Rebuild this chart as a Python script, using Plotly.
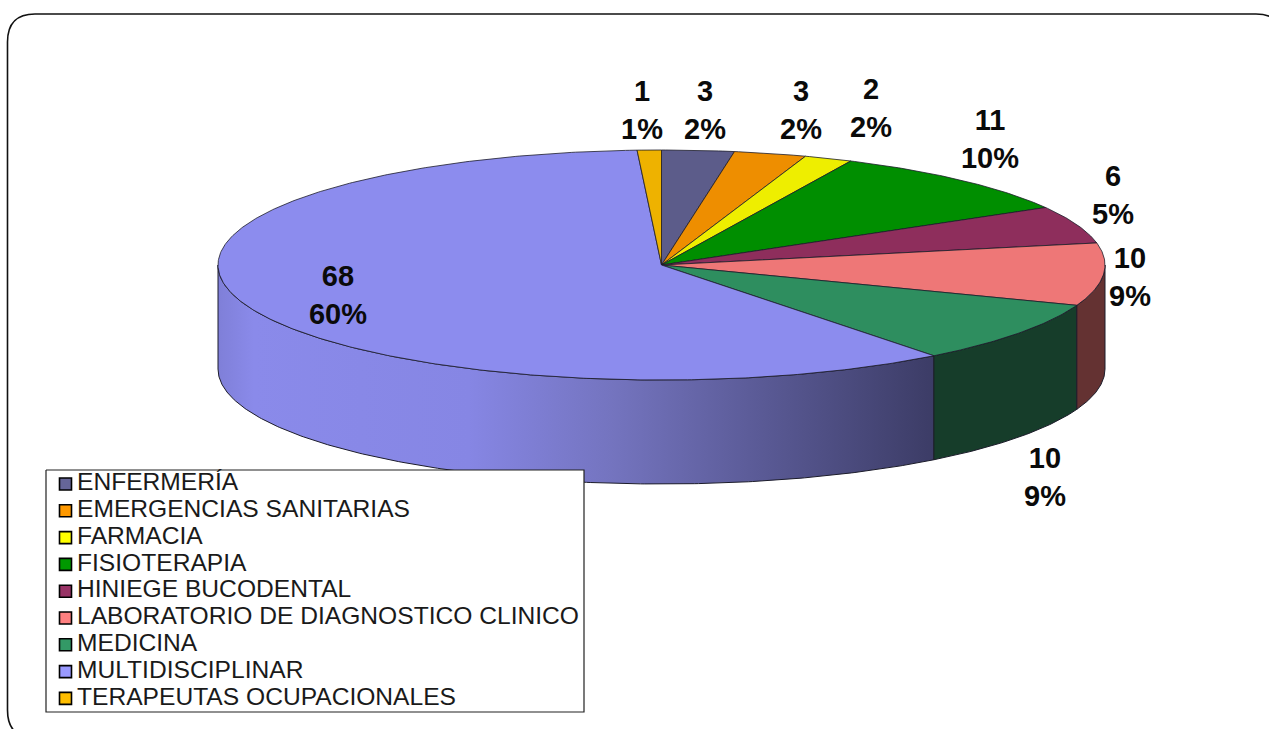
import numpy as np
import plotly.graph_objects as go

categories = ["ENFERMERÍA", "EMERGENCIAS SANITARIAS", "FARMACIA", "FISIOTERAPIA",
              "HINIEGE BUCODENTAL", "LABORATORIO DE DIAGNOSTICO CLINICO", "MEDICINA",
              "MULTIDISCIPLINAR", "TERAPEUTAS OCUPACIONALES"]
values = [3, 3, 2, 11, 6, 10, 10, 68, 1]
percents = [2, 2, 2, 10, 5, 9, 9, 60, 1]

top_colors = ["#5c5c8a", "#ee8e00", "#eeee00", "#008e00", "#8e2e5c",
              "#ee7777", "#2e8e5f", "#8c8cee", "#eeb200"]
legend_colors = ["#666699", "#ff9900", "#ffff00", "#009900", "#993366",
                 "#ff8080", "#339966", "#9999ff", "#ffbe00"]
wall_colors = {5: "#643232", 6: "#163d2a"}
multi_wall_scale = [[0, "#7f7fd8"], [0.05, "#8a8aea"], [0.35, "#8686e4"],
                    [0.55, "#7474bf"], [1, "#3c3c66"]]

label_x = [705, 801, 871, 990, 1113, 1130, 1045, 338, 642]
label_y = [113, 113, 111, 142, 198, 280, 480, 298, 113]

# Page-pixel geometry of the tilted pie
CX, CY, RX, RY, DEPTH = 661.5, 265, 443.5, 115, 104
EDGE = "#1c1c2a"
FONT = "Liberation Sans"


def rim(a, b):
    t = np.radians(np.linspace(a, b, max(int(abs(b - a) * 2), 2) + 1))
    return CX + RX * np.sin(t), CY - RY * np.cos(t)


edges = np.concatenate([[0], np.cumsum(values)]) / sum(values) * 360
fig = go.Figure()

# Side walls (only the front half of the disc is visible)
for i in range(len(values) - 1, -1, -1):
    a, b = max(edges[i], 90), min(edges[i + 1], 270)
    if a >= b:
        continue
    x, y = rim(a, b)
    xs = np.concatenate([x, x[::-1], x[:1]])
    ys = np.concatenate([y, y[::-1] + DEPTH, y[:1]])
    style = dict(fillcolor=wall_colors.get(i, top_colors[i]))
    if i not in wall_colors:
        style = dict(fillgradient=dict(type="horizontal", colorscale=multi_wall_scale,
                                       start=float(x.min()), stop=float(x.max())))
    fig.add_trace(go.Scatter(x=xs, y=ys, mode="lines", fill="toself", name=categories[i],
                             line=dict(color=EDGE, width=1), showlegend=False,
                             hoverinfo="skip", **style))

# Top faces
for i, name in enumerate(categories):
    x, y = rim(edges[i], edges[i + 1])
    fig.add_trace(go.Scatter(x=np.concatenate([[CX], x, [CX]]), y=np.concatenate([[CY], y, [CY]]),
                             mode="lines", fill="toself", fillcolor=top_colors[i],
                             line=dict(color=EDGE, width=0.8), name=name, showlegend=False,
                             hovertemplate=f"{name}: {values[i]} ({percents[i]}%)<extra></extra>"))

# Data labels
fig.add_trace(go.Scatter(x=label_x, y=label_y, mode="text", showlegend=False, hoverinfo="skip",
                         text=[f"{v}<br>{p}%" for v, p in zip(values, percents)],
                         textposition="middle center", cliponaxis=False,
                         textfont=dict(family=FONT, size=29, color="#0a0a0a", weight="bold")))

# Legend box with swatches and names
LEFT, RIGHT, TOP, BOTTOM, ROW0, ROWH = 46, 584, 470, 712, 484, 26.8
fig.add_trace(go.Scatter(x=[LEFT, RIGHT, RIGHT, LEFT, LEFT], y=[TOP, TOP, BOTTOM, BOTTOM, TOP],
                         mode="lines", fill="toself", fillcolor="#ffffff", showlegend=False,
                         line=dict(color="#222222", width=1.2), hoverinfo="skip"))
rows = [ROW0 + k * ROWH for k in range(len(categories))]
fig.add_trace(go.Scatter(x=[65.5] * len(rows), y=rows, mode="markers", showlegend=False, hoverinfo="skip",
                         marker=dict(symbol="square", size=12, color=legend_colors,
                                     line=dict(color="#000000", width=1.6))))
fig.add_trace(go.Scatter(x=[77] * len(rows), y=rows, mode="text", text=categories, showlegend=False,
                         textposition="middle right", hoverinfo="skip", cliponaxis=False,
                         textfont=dict(family=FONT, size=24.6, color="#1a1a1a")))

fig.update_layout(
    width=1269, height=729, margin=dict(l=0, r=0, t=0, b=0),
    paper_bgcolor="#ffffff", plot_bgcolor="#ffffff", showlegend=False,
    xaxis=dict(range=[0, 1269], visible=False, fixedrange=True),
    yaxis=dict(range=[729, 0], visible=False, fixedrange=True),
    shapes=[dict(type="path", xref="x", yref="y", layer="below",
                 path="M 35 738 Q 7.5 738 7.5 710 L 7.5 42 Q 7.5 14 35 14 L 1256 14 Q 1284 14 1284 42 L 1284 738",
                 line=dict(color="#111111", width=1.6))],
)

fig.write_html("out.html", config={"displayModeBar": False},
               post_script="document.body.style.margin='0';document.body.style.overflow='hidden';")
